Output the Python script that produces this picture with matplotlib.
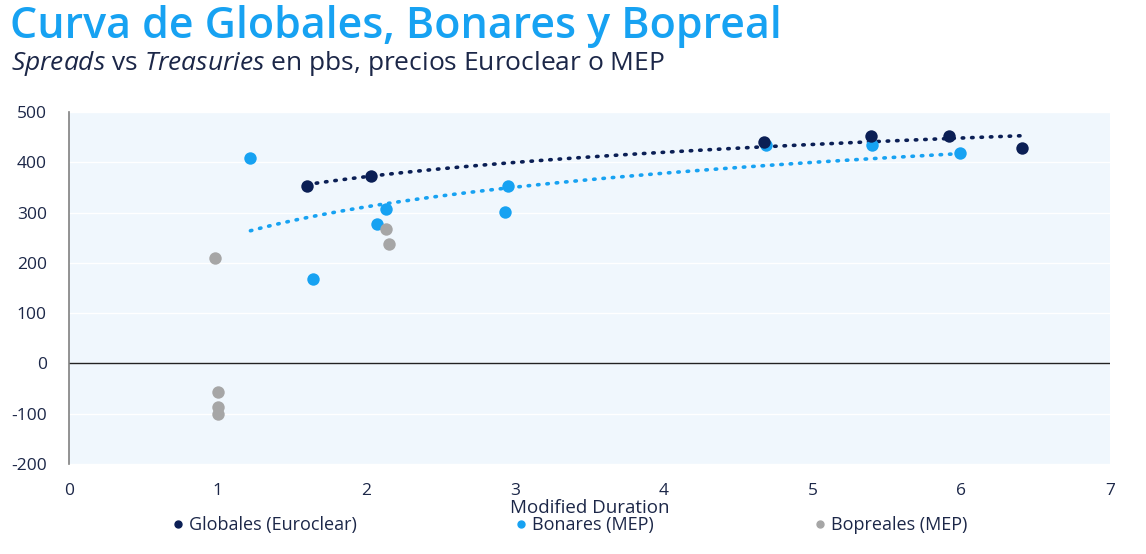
import numpy as np
import matplotlib.pyplot as plt
from matplotlib.lines import Line2D

# -------------------------------
# Data (modified duration, spread in bps)
# -------------------------------
globales_dur = [1.60, 2.03, 4.67, 5.39, 5.92, 6.41]
globales_spread = [352, 372, 441, 453, 453, 429]

bonares_dur = [1.22, 1.64, 2.07, 2.13, 2.93, 2.95, 4.69, 5.40, 5.99]
bonares_spread = [408, 167, 278, 308, 302, 352, 435, 435, 419]

bopreales_dur = [0.98, 1.00, 1.00, 1.00, 2.13, 2.15]
bopreales_spread = [209, -56, -87, -101, 268, 237]

series_labels = ["Globales (Euroclear)", "Bonares (MEP)", "Bopreales (MEP)"]

x_ticks = [0, 1, 2, 3, 4, 5, 6, 7]
y_ticks = [-200, -100, 0, 100, 200, 300, 400, 500]

NAVY = "#0b1f55"
BLUE = "#17a2f2"
GREY = "#a6a6a6"
TEXT = "#1c2748"

plt.rcParams["font.family"] = ["Open Sans", "DejaVu Sans"]
plt.rcParams["mathtext.fontset"] = "custom"
plt.rcParams["mathtext.rm"] = "Open Sans"
plt.rcParams["mathtext.it"] = "Open Sans:italic"
plt.rcParams["axes.unicode_minus"] = False

fig = plt.figure(figsize=(11.46, 5.54), dpi=100)
ax = fig.add_axes([0.0602, 0.1625, 0.9084, 0.6353])
ax.set_facecolor("#f0f7fd")

# -------------------------------
# Log trend lines
# -------------------------------
def log_trend(xs, ys):
    b, a = np.polyfit(np.log(xs), ys, 1)
    xx = np.linspace(min(xs), max(xs), 100)
    return xx, a + b * np.log(xx)

for xs, ys, c in [(globales_dur, globales_spread, NAVY),
                  (bonares_dur, bonares_spread, BLUE)]:
    xx, yy = log_trend(xs, ys)
    ax.plot(xx, yy, color=c, linewidth=2.6, linestyle=(0, (0.4, 2.2)),
            dash_capstyle="round", zorder=2)

# -------------------------------
# Scatter points
# -------------------------------
ax.scatter(globales_dur, globales_spread, s=80, color=NAVY, zorder=4, linewidths=0)
ax.scatter(bonares_dur, bonares_spread, s=80, color=BLUE, zorder=3, linewidths=0)
ax.scatter(bopreales_dur, bopreales_spread, s=80, color=GREY, zorder=3, linewidths=0)

# -------------------------------
# Axes formatting
# -------------------------------
ax.set_xlim(0, 7)
ax.set_ylim(-200, 500)
ax.set_xticks(x_ticks)
ax.set_yticks(y_ticks)
ax.tick_params(length=0, labelsize=12.5, labelcolor=TEXT)
ax.tick_params(axis="y", pad=16)
ax.tick_params(axis="x", pad=14)
ax.grid(axis="y", color="white", linewidth=1)
ax.set_axisbelow(True)
for s in ["top", "right", "bottom"]:
    ax.spines[s].set_visible(False)
ax.spines["left"].set_color("#808080")
ax.spines["left"].set_linewidth(1.2)
ax.axhline(0, color="#222222", linewidth=1, zorder=1)
ax.set_xlabel("Modified Duration", fontsize=13.5, color=TEXT, labelpad=0)

# -------------------------------
# Titles
# -------------------------------
fig.text(0.009, 0.952, "Curva de Globales, Bonares y Bopreal", fontsize=31,
         color=BLUE, fontweight="semibold", va="center", ha="left")
fig.text(0.010, 0.886, r"$\mathit{Spreads}$ vs $\mathit{Treasuries}$ en pbs, precios Euroclear o MEP",
         fontsize=19, color=TEXT, va="center", ha="left")

# -------------------------------
# Legend
# -------------------------------
for label, c, xpos in zip(series_labels, [NAVY, BLUE, GREY], [0.140, 0.439, 0.700]):
    h = Line2D([], [], marker="o", linestyle="none", color=c, markersize=5)
    fig.legend([h], [label], loc="center left", bbox_to_anchor=(xpos, 0.052),
               frameon=False, fontsize=13, labelcolor=TEXT,
               handletextpad=0.1, handlelength=1.0, borderpad=0)

fig.savefig("out.png", dpi=100)
